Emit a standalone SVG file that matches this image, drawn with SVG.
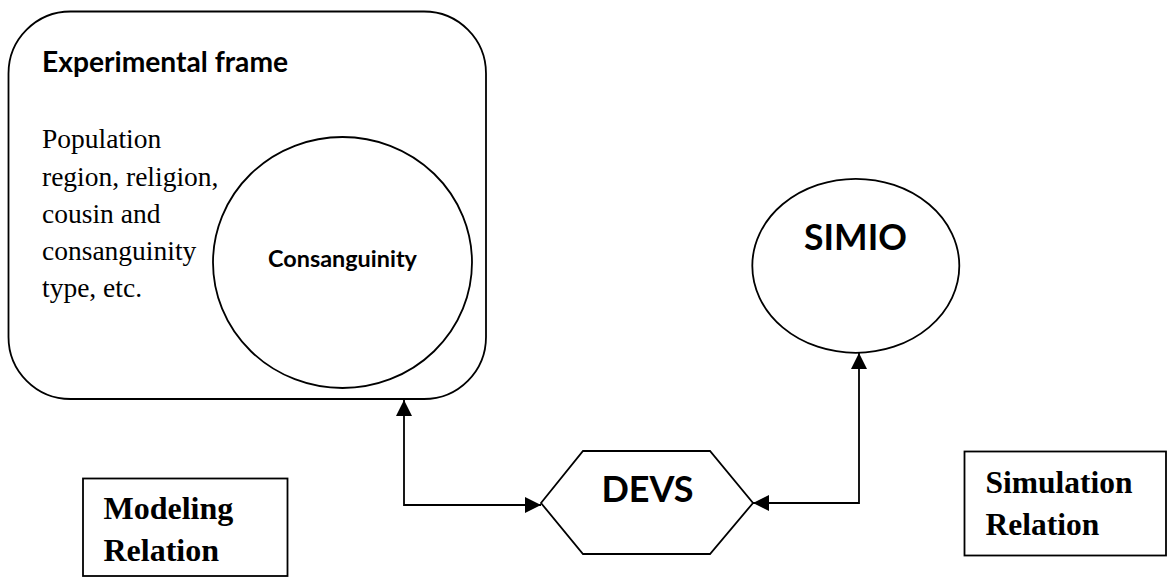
<svg xmlns="http://www.w3.org/2000/svg" width="1167" height="577" viewBox="0 0 1167 577">
<style>
.shape{fill:#fff;stroke:#000;stroke-width:1.8}
.line{fill:none;stroke:#000;stroke-width:1.8}
.sans{font-family:Lato,"Liberation Sans",sans-serif;font-weight:bold;fill:#000}
.serif{font-family:"Liberation Serif","Times New Roman",serif;fill:#000}
.serifb{font-family:"Liberation Serif","Times New Roman",serif;font-weight:bold;fill:#000}
</style>
<defs>
<marker id="arr" viewBox="0 0 16 16" refX="16" refY="8" markerWidth="16" markerHeight="16" markerUnits="userSpaceOnUse" orient="auto-start-reverse">
<path d="M0,0 L16,8 L0,16 Z" fill="#000"/>
</marker>
</defs>
<rect width="1167" height="577" fill="#fff"/>
<g id="experimental-frame">
<rect class="shape" x="8.5" y="11.5" width="477.5" height="387.5" rx="62" ry="62"/>
<text class="sans" x="42" y="72" font-size="28.2">Experimental frame</text>
<text class="serif" font-size="27.5">
<tspan x="42" y="148">Population</tspan>
<tspan x="42" y="186">region, religion,</tspan>
<tspan x="42" y="223">cousin and</tspan>
<tspan x="42" y="260">consanguinity</tspan>
<tspan x="42" y="297">type, etc.</tspan>
</text>
</g>
<g id="consanguinity">
<ellipse class="shape" cx="342.5" cy="262.5" rx="129.5" ry="125.5"/>
<text class="sans" x="342.5" y="267" font-size="23.4" text-anchor="middle">Consanguinity</text>
</g>
<g id="simio">
<ellipse class="shape" cx="855.8" cy="265.8" rx="103.5" ry="87"/>
<text class="sans" x="855.5" y="250" font-size="35.5" text-anchor="middle">SIMIO</text>
</g>
<g id="devs">
<polygon class="shape" points="541,503 583,451 710,451 753,503 710,554 583,554"/>
<text class="sans" x="647.5" y="501.5" font-size="36" text-anchor="middle">DEVS</text>
</g>
<g id="modeling-relation">
<rect class="shape" x="83" y="478.5" width="204.5" height="97.5"/>
<text class="serifb" font-size="32">
<tspan x="103.5" y="519">Modeling</tspan>
<tspan x="103.5" y="561">Relation</tspan>
</text>
</g>
<g id="simulation-relation">
<rect class="shape" x="964.5" y="451.5" width="201.5" height="104"/>
<text class="serifb" font-size="31.5">
<tspan x="985.5" y="493">Simulation</tspan>
<tspan x="985.5" y="535">Relation</tspan>
</text>
</g>
<g id="connectors">
<path class="line" d="M404,400 L404,505 L541,505" marker-start="url(#arr)" marker-end="url(#arr)"/>
<path class="line" d="M753,503 L859,503 L859,353" marker-start="url(#arr)" marker-end="url(#arr)"/>
</g>
</svg>
